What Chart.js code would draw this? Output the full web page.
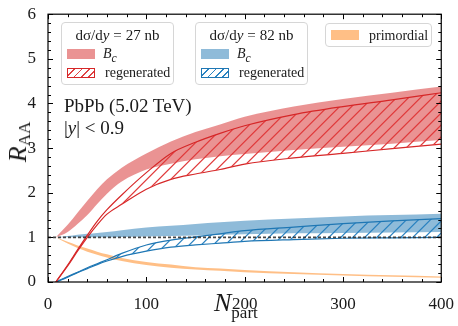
<!DOCTYPE html>
<html>
<head>
<meta charset="utf-8">
<script src="https://cdn.jsdelivr.net/npm/chart.js@4.4.0/dist/chart.umd.min.js"></script>
<style>
  body { margin: 0; background: #fff; }
  #wrap { position: relative; width: 458px; height: 326px; font-family: "Liberation Serif", serif; color: #1a1a1a; }
  #wrap canvas { position: absolute; left: 0; top: 0; }
  .box { position: absolute; box-sizing: border-box; border: 1px solid #d6d6d6; border-radius: 4px; background: rgba(255, 255, 255, 0.85); }
  .t { position: absolute; white-space: nowrap; line-height: 1; }
  .sw { position: absolute; box-sizing: border-box; width: 28px; height: 10px; }
  .solid-red { background: rgba(214, 39, 40, 0.5); }
  .solid-blue { background: rgba(31, 119, 180, 0.5); }
  .solid-orange { background: rgba(255, 127, 14, 0.5); }
  .hatch-red { border: 1px solid #d62728; background: repeating-linear-gradient(135deg, transparent 0 4px, #e04344 4px 5.2px); }
  .hatch-blue { border: 1px solid #1f77b4; background: repeating-linear-gradient(135deg, transparent 0 4px, #2b84c2 4px 5.2px); }
  .lg { font-size: 14px; }
  .ttl { font-size: 15px; left: 0; width: 100%; text-align: center; }
  .eq { margin: 0 4px; }
  .sub { font-size: 17px; position: relative; }
</style>
</head>
<body>
<div id="wrap">
  <canvas id="raa" width="458" height="326"></canvas>

  <div class="box" style="left:61px; top:22px; width:113px; height:63px;">
    <div class="t ttl" style="top:5px;">dσ/d<i>y</i><span class="eq">=</span>27 nb</div>
    <div class="sw solid-red" style="left:5px; top:26px;"></div>
    <div class="t lg" style="left:41px; top:24px;"><i>B<sub>c</sub></i></div>
    <div class="sw hatch-red" style="left:5px; top:45px;"></div>
    <div class="t lg" style="left:43px; top:43px;">regenerated</div>
  </div>

  <div class="box" style="left:195px; top:22px; width:113px; height:63px;">
    <div class="t ttl" style="top:5px;">dσ/d<i>y</i><span class="eq">=</span>82 nb</div>
    <div class="sw solid-blue" style="left:5px; top:26px;"></div>
    <div class="t lg" style="left:41px; top:24px;"><i>B<sub>c</sub></i></div>
    <div class="sw hatch-blue" style="left:5px; top:45px;"></div>
    <div class="t lg" style="left:43px; top:43px;">regenerated</div>
  </div>

  <div class="box" style="left:325px; top:23px; width:107px; height:24px;">
    <div class="sw solid-orange" style="left:5px; top:6px;"></div>
    <div class="t lg" style="left:43px; top:5px;">primordial</div>
  </div>

  <div class="t" style="left:64px; top:96px; font-size:19px;">PbPb (5.02 TeV)</div>
  <div class="t" style="left:64px; top:118px; font-size:19px;"><span>|</span><i>y</i><span>|</span> &lt; 0.9</div>

  <div class="t" style="left:18px; top:142px; transform: translate(-50%, -50%) rotate(-90deg); font-size:26px;"><i>R</i><span class="sub" style="top:4px;">AA</span></div>
  <div class="t" style="left:214px; top:290px; font-size:26px;"><i>N</i><span class="sub" style="top:7px;">part</span></div>
</div>

<script>
// number of participants
const npart = [8, 20, 30, 40, 50, 60, 75, 100, 125, 150, 175, 200, 250, 300, 350, 400];

// B_c total, dsigma/dy = 27 nb
const bcUpper27 = [1.0, 1.28, 1.55, 1.82, 2.08, 2.3, 2.56, 2.88, 3.15, 3.36, 3.53, 3.7, 3.93, 4.1, 4.24, 4.38];
const bcLower27 = [1.0, 1.12, 1.3, 1.5, 1.75, 1.98, 2.25, 2.52, 2.65, 2.75, 2.82, 2.87, 2.96, 3.03, 3.1, 3.18];
// regenerated part, 27 nb
const regUpper27 = [0, 0.38, 0.72, 1.05, 1.36, 1.62, 1.95, 2.45, 2.88, 3.13, 3.33, 3.5, 3.75, 3.93, 4.08, 4.24];
const regLower27 = [0, 0.36, 0.69, 1.0, 1.28, 1.52, 1.74, 2.08, 2.3, 2.42, 2.52, 2.64, 2.78, 2.88, 2.99, 3.09];

// B_c total, dsigma/dy = 82 nb
const bcUpper82 = [1.0, 1.03, 1.06, 1.08, 1.1, 1.12, 1.16, 1.22, 1.26, 1.3, 1.34, 1.37, 1.42, 1.47, 1.5, 1.53];
const bcLower82 = [1.0, 1.0, 1.0, 1.0, 1.0, 1.0, 1.01, 1.02, 1.03, 1.04, 1.06, 1.07, 1.09, 1.1, 1.11, 1.12];
// regenerated part, 82 nb
const regUpper82 = [0, 0.12, 0.22, 0.32, 0.41, 0.5, 0.64, 0.83, 0.94, 1.01, 1.08, 1.15, 1.23, 1.31, 1.37, 1.42];
const regLower82 = [0, 0.11, 0.21, 0.3, 0.39, 0.47, 0.57, 0.69, 0.78, 0.83, 0.87, 0.91, 0.95, 0.98, 0.99, 1.0];

// primordial
const primUpper = [1.0, 0.9, 0.82, 0.75, 0.68, 0.62, 0.54, 0.45, 0.39, 0.33, 0.3, 0.27, 0.22, 0.18, 0.15, 0.125];
const primLower = [1.0, 0.86, 0.76, 0.68, 0.61, 0.55, 0.47, 0.38, 0.32, 0.28, 0.25, 0.22, 0.18, 0.145, 0.115, 0.095];

// reference line R_AA = 1
const unityX = [0, 400];
const unityY = [1, 1];

const canvas = document.getElementById('raa');
const ctx = canvas.getContext('2d');

function pts(xs, ys) {
    return xs.map((x, i) => ({ x: x, y: ys[i] }));
}

function edge(data, extra) {
    return Object.assign({
        data: data,
        pointRadius: 0,
        borderWidth: 0,
        borderColor: 'transparent',
        cubicInterpolationMode: 'monotone',
        fill: false
    }, extra || {});
}

// "//" hatching clipped between two line datasets
function hatchBetween(chart, upperIdx, lowerIdx, color) {
    const c = chart.ctx;
    const a = chart.chartArea;
    const up = chart.getDatasetMeta(upperIdx).dataset;
    const lo = chart.getDatasetMeta(lowerIdx).dataset;
    const upPts = up.points;
    const loPts = lo.points;
    c.save();
    c.beginPath();
    c.rect(a.left, a.top, a.right - a.left, a.bottom - a.top);
    c.clip();

    c.beginPath();
    up.path(c);
    c.lineTo(upPts[upPts.length - 1].x, a.bottom + 10);
    c.lineTo(upPts[0].x, a.bottom + 10);
    c.closePath();
    c.clip();

    c.beginPath();
    lo.path(c);
    c.lineTo(loPts[loPts.length - 1].x, a.top - 10);
    c.lineTo(loPts[0].x, a.top - 10);
    c.closePath();
    c.clip();

    const h = a.bottom - a.top;
    c.strokeStyle = color;
    c.lineWidth = 1.2;
    c.beginPath();
    for (let x0 = a.left - h; x0 < a.right + 12; x0 += 12) {
        c.moveTo(x0, a.bottom);
        c.lineTo(x0 + h, a.top);
    }
    c.stroke();
    c.restore();
}

const hatching = {
    id: 'hatching',
    beforeDatasetDraw(chart, args) {
        if (args.index === 6) hatchBetween(chart, 6, 7, '#e03a3b');
        if (args.index === 8) hatchBetween(chart, 8, 9, '#2a82c0');
    }
};

// inward ticks on all four sides plus the frame
const frameTicks = {
    id: 'frameTicks',
    afterDraw(chart) {
        const c = chart.ctx;
        const a = chart.chartArea;
        const x = chart.scales.x;
        const y = chart.scales.y;
        c.save();
        c.strokeStyle = '#000';
        c.lineWidth = 1;
        c.beginPath();
        for (let v = 0; v <= 400; v += 20) {
            const px = Math.round(x.getPixelForValue(v)) + 0.5;
            const len = v % 100 === 0 ? 5 : 3;
            c.moveTo(px, a.bottom);
            c.lineTo(px, a.bottom - len);
            c.moveTo(px, a.top);
            c.lineTo(px, a.top + len);
        }
        for (let k = 0; k <= 30; k++) {
            const py = Math.round(y.getPixelForValue(k * 0.2)) + 0.5;
            const len = k % 5 === 0 ? 5 : 3;
            c.moveTo(a.left, py);
            c.lineTo(a.left + len, py);
            c.moveTo(a.right, py);
            c.lineTo(a.right - len, py);
        }
        c.stroke();
        c.lineWidth = 1.2;
        c.strokeRect(a.left, a.top, a.right - a.left, a.bottom - a.top);
        c.restore();
    }
};

Chart.defaults.font.family = '"Liberation Serif", serif';

new Chart(ctx, {
    type: 'line',
    data: {
        datasets: [
            // 0,1: B_c band 27 nb
            edge(pts(npart, bcUpper27), { fill: { target: '+1' }, backgroundColor: 'rgba(214, 39, 40, 0.5)', order: 6 }),
            edge(pts(npart, bcLower27), { order: 6 }),
            // 2,3: B_c band 82 nb
            edge(pts(npart, bcUpper82), { fill: { target: '+1' }, backgroundColor: 'rgba(31, 119, 180, 0.5)', order: 6 }),
            edge(pts(npart, bcLower82), { order: 6 }),
            // 4,5: primordial
            edge(pts(npart, primUpper), { fill: { target: '+1' }, backgroundColor: 'rgba(255, 127, 14, 0.5)', order: 4 }),
            edge(pts(npart, primLower), { order: 4 }),
            // 6,7: regenerated 27 nb (hatched by the plugin)
            edge(pts(npart, regUpper27), { borderColor: '#d62728', borderWidth: 1.2, order: 2 }),
            edge(pts(npart, regLower27), { borderColor: '#d62728', borderWidth: 1.2, order: 2 }),
            // 8,9: regenerated 82 nb
            edge(pts(npart, regUpper82), { borderColor: '#1f77b4', borderWidth: 1.2, order: 2 }),
            edge(pts(npart, regLower82), { borderColor: '#1f77b4', borderWidth: 1.2, order: 2 }),
            // 10: R_AA = 1
            edge(pts(unityX, unityY), { borderColor: 'rgba(50, 50, 50, 0.9)', borderWidth: 1.6, borderDash: [3, 2], cubicInterpolationMode: 'default', order: 0 })
        ]
    },
    options: {
        responsive: false,
        animation: false,
        events: [],
        layout: { padding: { top: 12, right: 13, left: 0, bottom: 0 } },
        plugins: {
            legend: { display: false },
            tooltip: { enabled: false }
        },
        scales: {
            x: {
                type: 'linear',
                min: 0,
                max: 400,
                grid: { display: false },
                border: { display: false },
                ticks: { stepSize: 100, color: '#1a1a1a', font: { size: 17 }, padding: 4, maxRotation: 0 },
                afterFit: s => { s.height = 44; }
            },
            y: {
                min: 0,
                max: 6,
                grid: { display: false },
                border: { display: false },
                ticks: { stepSize: 1, color: '#1a1a1a', font: { size: 17 }, padding: 4 },
                afterFit: s => { s.width = 48; }
            }
        }
    },
    plugins: [hatching, frameTicks]
});
</script>
</body>
</html>
